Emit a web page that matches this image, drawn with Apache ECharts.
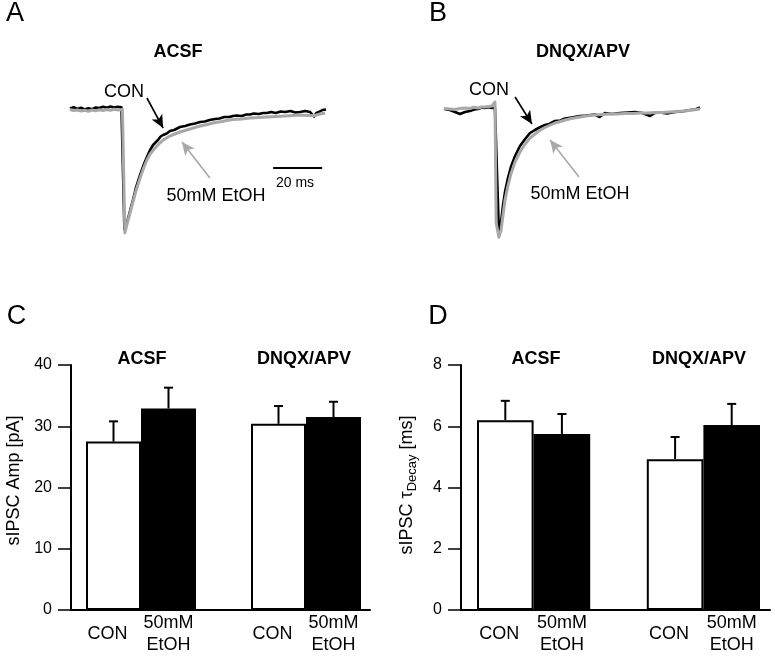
<!DOCTYPE html>
<html>
<head>
<meta charset="utf-8">
<script src="https://cdn.jsdelivr.net/npm/echarts@6/dist/echarts.min.js"></script>
<style>
html, body { margin: 0; padding: 0; background: #fff; }
#chart { width: 775px; height: 656px; }
</style>
</head>
<body>
<div id="chart"></div>
<script>
// representative sIPSC traces, time in ms, current in pA
const conA = [[0,-0.2],[1.5,0.3],[3,-0.4],[4.5,0.1],[6,-0.6],[7.5,-0.1],[9,-0.5],[10.5,0.2],[12,0],[13.5,0.5],[15,0.1],[16.5,0.6],[18,0.2],[19.5,0.5],[21,0.3],
  [22.2,-48.5],[23.3,-45.6],[24.5,-41.2],[25.7,-36.8],[26.9,-32],[28.6,-26.8],[30.2,-22.4],[31.4,-19.6],[32.7,-16.8],[33.9,-14.8],[35.9,-12.8],[37,-11.4],[38,-10.8],[39.5,-10.2],[40.8,-9.2],[42.5,-8.8],[44.9,-7.6],[47,-7.2],[49,-6.6],[51,-6.2],[53.1,-5.6],[55,-5.4],[57,-4.8],[59.2,-4.4],[61,-4.2],[63,-3.6],[65,-3.6],[66.5,-3.2],[68,-3.0],[70,-3.2],[72,-2.6],[73.5,-2.6],[75,-2.2],[77,-2.4],[79,-2.0],[80.4,-2],[82,-1.6],[84,-2],[86,-1.4],[87.8,-1.6],[90,-1.2],[92,-1.8],[93.9,-1.6],[96,-1.2],[98,-1.6],[99.6,-3.4],[100.6,-2.0],[102,-1.4],[103,-0.8],[104.5,-0.6]];
const etohA = [[0,-0.6],[1.5,-1.0],[3,-0.8],[4.5,-1.2],[6,-0.9],[7.5,-1.3],[9,-0.8],[10.5,-1.1],[12,-0.7],[13.5,-1.0],[15,-0.6],[16.5,-0.9],[18,-0.5],[19.5,-0.8],[21.4,-0.6],
  [22.4,-50],[23.3,-46.4],[24.5,-42],[25.7,-37.6],[26.9,-33.2],[28.6,-28],[30.2,-23.6],[31.4,-20.8],[32.7,-18.4],[34.7,-16],[36.5,-14.2],[38,-12.8],[40.8,-11.2],[42.8,-10.4],[44.9,-9.6],[47,-9.0],[49,-8.4],[51,-7.8],[53.1,-7.2],[56,-6.6],[59.2,-5.8],[62,-5.4],[64,-5.0],[66.5,-4.6],[70,-4.4],[73.5,-4],[77,-3.8],[80.4,-3.6],[84,-3.4],[87.8,-3.2],[91,-3.0],[93.9,-2.8],[97,-3.0],[100,-3],[102,-2.4],[104.1,-2]];
const conB = [[0,-0.4],[2.4,-0.8],[4.5,-1.6],[6.5,-2.4],[8.6,-1.6],[10.6,-1.2],[12.2,-0.6],[13.9,-0.4],[15.3,0.2],[16.7,0],[18.2,0.3],[19.6,0],[20.8,0],
  [22.4,-49.5],[23.3,-45.6],[24.1,-38.8],[24.9,-33.6],[26.1,-28],[27.3,-23.6],[29,-19.2],[31,-15.2],[33.1,-12.4],[35.1,-10],[37.1,-8.8],[39,-7.8],[41.2,-6.8],[43,-6.4],[45.3,-5.2],[47.5,-5.0],[49.4,-4.2],[52,-3.8],[55.5,-3.2],[58,-3.0],[61.6,-2.6],[63.5,-3.6],[65.7,-2],[68.5,-2.4],[71.8,-2],[75,-1.8],[78,-1.6],[81,-2.0],[84.1,-3.2],[86,-2.0],[88.2,-1.8],[91,-2.2],[94.3,-1.6],[97,-1.4],[100.4,-0.8],[102.5,-0.6],[104.5,0.2]];
const etohB = [[0,-0.2],[2.4,-0.4],[4.5,-0.6],[6.5,-0.2],[8.6,0],[10.6,-0.2],[12.2,0.3],[13.9,0],[15.3,0.4],[16.7,0.4],[18.2,0.6],[19.6,0.8],[20.8,2.4],
  [21.3,-46],[22.4,-51.7],[23.3,-48.8],[24.1,-42.8],[24.9,-36.8],[26.1,-31.2],[27.3,-26.4],[29,-21.6],[31,-17.6],[33.1,-14.4],[35.1,-12],[37.1,-10.4],[39,-9.0],[41.2,-7.8],[43,-7.0],[45.3,-6],[47.5,-5.4],[49.4,-4.8],[52,-4.2],[55.5,-3.6],[58,-3.2],[61.6,-2.8],[64.5,-2.6],[67.8,-2.4],[70.5,-2.4],[73.9,-2.2],[77,-2.2],[80,-2],[83,-2.0],[86.1,-1.8],[89,-1.8],[92.2,-1.6],[95,-1.4],[98.4,-1.2],[101.5,-0.8],[104.5,-0.4]];
const scaleBar = [[82.9,-24],[102.9,-24]];

// bar panels
const barCats = ['CON', '50mM\nEtOH', '', 'CON', '50mM\nEtOH'];
const ampMean = [27.5, 32.9, null, 30.4, 31.5];
const ampSem = [3.3, 3.4, null, 2.9, 2.5];
const tauMean = [6.2, 5.75, null, 4.92, 6.04];
const tauSem = [0.63, 0.65, null, 0.73, 0.69];
const ampTicks = [0, 40, 10];
const tauTicks = [0, 8, 2];

const FONT = 'Liberation Sans, Arial, sans-serif';
const GRAY = '#a8a8a8';

const chart = echarts.init(document.getElementById('chart'));

function traceAxes(grid) {
  return {
    x: { type: 'value', gridIndex: grid, min: 0, max: 105, show: false },
    y: { type: 'value', gridIndex: grid, min: -55, max: 10, show: false }
  };
}

function arrow(from, to, color) {
  return [{ coord: from, lineStyle: { color: color } }, { coord: to }];
}

function traceSeries(axis, data, color, width, arrows) {
  const s = {
    type: 'line', xAxisIndex: axis, yAxisIndex: axis, data: data,
    showSymbol: false, symbol: 'none', silent: true,
    lineStyle: { color: color, width: width, join: 'round' }
  };
  if (arrows) {
    s.markLine = {
      silent: true, symbol: ['none', 'arrow'], symbolSize: [9, 13],
      label: { show: false },
      lineStyle: { type: 'solid', width: 1.6, color: color },
      itemStyle: { color: color },
      data: arrows
    };
  }
  return s;
}

function barSeries(axis, means) {
  return {
    type: 'bar', xAxisIndex: axis, yAxisIndex: axis,
    barWidth: '100%', barCategoryGap: '0%', silent: true,
    data: means.map((v, i) => v == null ? '-' : {
      value: v,
      itemStyle: { color: barCats[i] === 'CON' ? '#fff' : '#000' }
    }),
    itemStyle: { borderColor: '#000', borderWidth: 2 },
    z: 2
  };
}

function errorSeries(axis, means, sems) {
  const items = [];
  means.forEach((m, i) => { if (m != null) items.push([i, m, m + sems[i]]); });
  return {
    type: 'custom', xAxisIndex: axis, yAxisIndex: axis, silent: true,
    encode: { x: 0, y: [1, 2] },
    data: items,
    renderItem: (params, api) => {
      const lo = api.coord([api.value(0), api.value(1)]);
      const hi = api.coord([api.value(0), api.value(2)]);
      const st = { stroke: '#000', lineWidth: 2 };
      return {
        type: 'group', children: [
          { type: 'line', shape: { x1: lo[0], y1: lo[1], x2: hi[0], y2: hi[1] }, style: st },
          { type: 'line', shape: { x1: hi[0] - 4.5, y1: hi[1], x2: hi[0] + 4.5, y2: hi[1] }, style: st }
        ]
      };
    },
    z: 3
  };
}

function catAxis(grid) {
  return {
    type: 'category', gridIndex: grid, data: barCats,
    axisLine: { show: false }, axisTick: { show: false }, splitLine: { show: false },
    axisLabel: {
      interval: 0, color: '#000', fontSize: 18, fontFamily: FONT,
      verticalAlign: 'middle', margin: 24, lineHeight: 22,
      formatter: v => v === 'CON' ? '{c|CON}' : v,
      rich: { c: { fontSize: 18, fontFamily: FONT, color: '#000', padding: [0, 12, 0, 0] } }
    }
  };
}

function frameX(grid) {
  return {
    type: 'value', gridIndex: grid, min: 0, max: 1,
    axisLine: { show: true, onZero: false, lineStyle: { color: '#000', width: 2 } },
    axisTick: { show: false }, axisLabel: { show: false }, splitLine: { show: false }
  };
}

function frameY(grid, ticks, name, gap, pad, rich) {
  return {
    type: 'value', gridIndex: grid, min: ticks[0], max: ticks[1], interval: ticks[2],
    axisLine: { show: true, onZero: false, lineStyle: { color: '#000', width: 2 } },
    axisTick: { show: true, length: 13, lineStyle: { color: '#000', width: 1.5 } },
    axisLabel: { color: '#000', fontSize: 16, fontFamily: FONT, margin: 19 },
    splitLine: { show: false },
    name: name, nameLocation: 'middle', nameGap: gap,
    nameTextStyle: { color: '#000', fontSize: 18, fontFamily: FONT, lineHeight: 24, padding: pad, rich: rich }
  };
}

const tA = traceAxes(0), tB = traceAxes(1);

function text(str, x, y, size, bold, color) {
  return {
    type: 'text', x: x, y: y, silent: true,
    style: {
      text: str, fill: color || '#000', fontSize: size, fontFamily: FONT,
      fontWeight: bold ? 'bold' : 'normal',
      align: 'center', verticalAlign: 'middle', textAlign: 'center', textVerticalAlign: 'middle'
    }
  };
}

chart.setOption({
  animation: false,
  textStyle: { fontFamily: FONT },
  grid: [
    { left: 70, top: 83, width: 257.25, height: 162.5 },
    { left: 444, top: 83, width: 257.25, height: 162.5 },
    { left: 86, top: 365, width: 275, height: 245 },
    { left: 71, top: 365, width: 299, height: 245 },
    { left: 477, top: 365, width: 283, height: 245 },
    { left: 461, top: 365, width: 309, height: 245 }
  ],
  xAxis: [tA.x, tB.x, catAxis(2), frameX(3), catAxis(4), frameX(5)],
  yAxis: [
    tA.y, tB.y,
    { type: 'value', gridIndex: 2, min: ampTicks[0], max: ampTicks[1], show: false },
    frameY(3, ampTicks, 'sIPSC Amp [pA]', 45, [0, 0, 0, 14]),
    { type: 'value', gridIndex: 4, min: tauTicks[0], max: tauTicks[1], show: false },
    frameY(5, tauTicks, 'sIPSC τ{d|Decay} [ms]', 42, [0, 0, 0, 5],
      { d: { fontSize: 13, fontFamily: FONT, color: '#000', verticalAlign: 'bottom', lineHeight: 13 } })
  ],
  series: [
    traceSeries(0, conA, '#000', 2.6, [arrow([31.4, 4], [38, -8], '#000')]),
    traceSeries(0, etohA, GRAY, 3, [arrow([57.1, -28], [45.7, -13.6], GRAY)]),
    { type: 'line', xAxisIndex: 0, yAxisIndex: 0, data: scaleBar, showSymbol: false, symbol: 'none',
      silent: true, lineStyle: { color: '#000', width: 2 } },
    traceSeries(1, conB, '#000', 2.6, [arrow([29, 4.4], [35.9, -6.4], '#000')]),
    traceSeries(1, etohB, GRAY, 3, [arrow([55.1, -27.6], [43.3, -12.8], GRAY)]),
    barSeries(2, ampMean),
    errorSeries(2, ampMean, ampSem),
    barSeries(4, tauMean),
    errorSeries(4, tauMean, tauSem)
  ],
  graphic: [
    text('A', 15, 14, 27, false),
    text('B', 438, 14, 27, false),
    text('C', 16.5, 317, 27, false),
    text('D', 438, 317, 27, false),
    text('ACSF', 178, 52, 18, true),
    text('DNQX/APV', 583, 52, 18, true),
    text('CON', 124, 92, 18, false),
    text('50mM EtOH', 216, 196, 18, false),
    text('20 ms', 295, 183, 14, false),
    text('CON', 489, 90, 18, false),
    text('50mM EtOH', 580, 194, 18, false),
    text('ACSF', 142, 359, 18, true),
    text('DNQX/APV', 304, 359, 18, true),
    text('ACSF', 536, 359, 18, true),
    text('DNQX/APV', 699, 359, 18, true)
  ]
});
</script>
</body>
</html>
